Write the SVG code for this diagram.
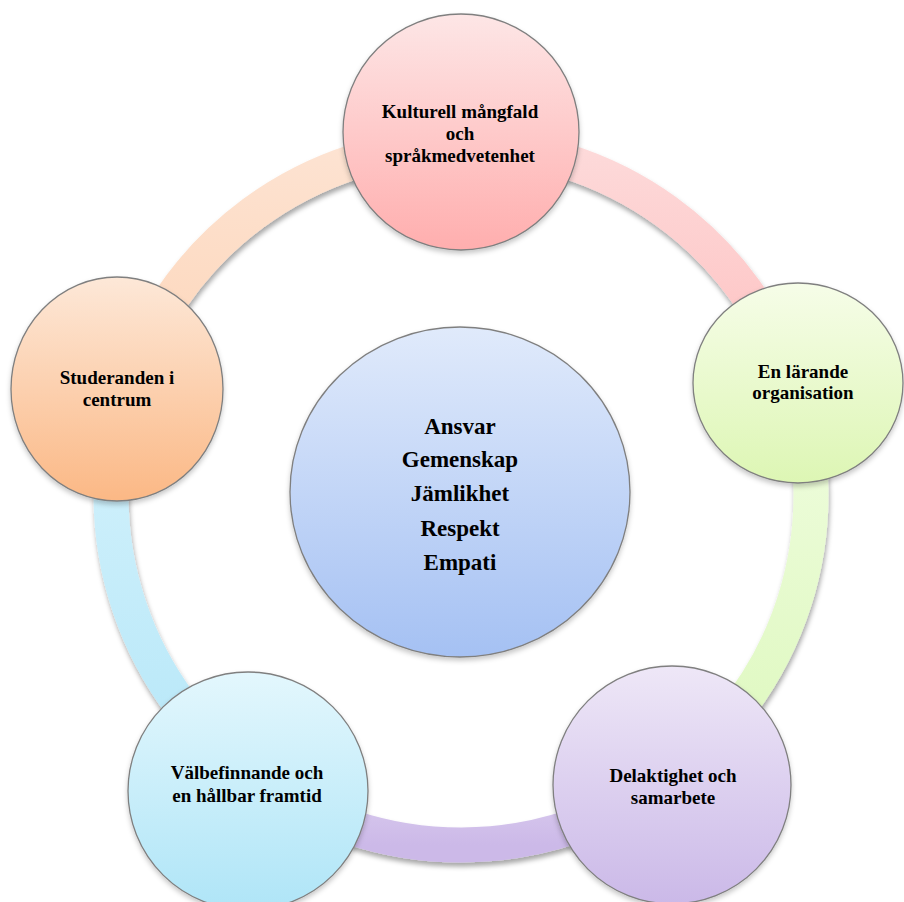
<svg xmlns="http://www.w3.org/2000/svg" width="904" height="902" viewBox="0 0 904 902">
<style>
  .node { stroke: #7f7f7f; stroke-width: 1.3; filter: url(#sh2); }
  .band { fill: none; stroke-width: 35; stroke-linecap: butt; filter: url(#sh); }
  .lbl { font-family: "Liberation Serif", "DejaVu Serif", serif; font-weight: bold; font-size: 19px; fill: #000; text-anchor: middle; }
  .ctr { font-family: "Liberation Serif", "DejaVu Serif", serif; font-weight: bold; font-size: 23px; fill: #000; text-anchor: middle; }
</style>
<defs>
  <filter id="sh" filterUnits="userSpaceOnUse" x="0" y="0" width="904" height="902">
    <feDropShadow dx="1" dy="4" stdDeviation="2.5" flood-color="#000" flood-opacity="0.35"/>
  </filter>
  <filter id="sh2" filterUnits="userSpaceOnUse" x="0" y="0" width="904" height="902">
    <feDropShadow dx="0" dy="3" stdDeviation="2.5" flood-color="#000" flood-opacity="0.22"/>
  </filter>
  <linearGradient id="gPink" x1="0" y1="0" x2="0" y2="1">
    <stop offset="0" stop-color="#fde6e6"/><stop offset="1" stop-color="#ffaeae"/>
  </linearGradient>
  <linearGradient id="gGreen" x1="0" y1="0" x2="0" y2="1">
    <stop offset="0" stop-color="#f6fde8"/><stop offset="1" stop-color="#ddf6b4"/>
  </linearGradient>
  <linearGradient id="gPurple" x1="0" y1="0" x2="0" y2="1">
    <stop offset="0" stop-color="#eee7f7"/><stop offset="1" stop-color="#cbb9e8"/>
  </linearGradient>
  <linearGradient id="gCyan" x1="0" y1="0" x2="0" y2="1">
    <stop offset="0" stop-color="#e3f7fd"/><stop offset="1" stop-color="#afe5f7"/>
  </linearGradient>
  <linearGradient id="gOrange" x1="0" y1="0" x2="0" y2="1">
    <stop offset="0" stop-color="#fde8d8"/><stop offset="1" stop-color="#fbb885"/>
  </linearGradient>
  <linearGradient id="gBlue" x1="0" y1="0" x2="0" y2="1">
    <stop offset="0" stop-color="#e0eafb"/><stop offset="1" stop-color="#a5c1f3"/>
  </linearGradient>
  <linearGradient id="aPink" x1="0" y1="0" x2="0" y2="1">
    <stop offset="0" stop-color="#fddada"/><stop offset="1" stop-color="#fec0c0"/>
  </linearGradient>
  <linearGradient id="aGreen" x1="0" y1="0" x2="0" y2="1">
    <stop offset="0" stop-color="#f0fde0"/><stop offset="1" stop-color="#ddf8bd"/>
  </linearGradient>
  <linearGradient id="aPurple" x1="0" y1="0" x2="0" y2="1">
    <stop offset="0" stop-color="#ddd0f0"/><stop offset="1" stop-color="#ccb9e8"/>
  </linearGradient>
  <linearGradient id="aCyan" x1="0" y1="0" x2="0" y2="1">
    <stop offset="0" stop-color="#d4f2fc"/><stop offset="1" stop-color="#b6e7f8"/>
  </linearGradient>
  <linearGradient id="aOrange" x1="0" y1="0" x2="0" y2="1">
    <stop offset="0" stop-color="#fde3d2"/><stop offset="1" stop-color="#fdd5b8"/>
  </linearGradient>
</defs>
<rect width="904" height="902" fill="#fff"/>
<g id="connectors">
  <path class="band" stroke="url(#aPink)" d="M461,145 A350,350 0 0 1 793.1,384.5"/>
  <path class="band" stroke="url(#aGreen)" d="M793.1,384.5 A350,350 0 0 1 666.7,778.2"/>
  <path class="band" stroke="url(#aPurple)" d="M666.7,778.2 A350,350 0 0 1 256.3,778.9"/>
  <path class="band" stroke="url(#aCyan)" d="M256.3,778.9 A350,350 0 0 1 126.3,392.7"/>
  <path class="band" stroke="url(#aOrange)" d="M126.3,392.7 A350,350 0 0 1 461,145"/>
</g>
<g id="center">
  <ellipse class="node" cx="460" cy="492" rx="170" ry="165" fill="url(#gBlue)"/>
  <text class="ctr" x="460" y="434">Ansvar</text>
  <text class="ctr" x="460" y="467">Gemenskap</text>
  <text class="ctr" x="460" y="501">Jämlikhet</text>
  <text class="ctr" x="460" y="536">Respekt</text>
  <text class="ctr" x="460" y="570">Empati</text>
</g>
<g id="n-kultur">
  <ellipse class="node" cx="461" cy="132" rx="118" ry="118" fill="url(#gPink)"/>
  <text class="lbl" x="460" y="118">Kulturell mångfald</text>
  <text class="lbl" x="460" y="140">och</text>
  <text class="lbl" x="460" y="162">språkmedvetenhet</text>
</g>
<g id="n-larande">
  <ellipse class="node" cx="798" cy="383" rx="105" ry="100" fill="url(#gGreen)"/>
  <text class="lbl" x="803" y="378">En lärande</text>
  <text class="lbl" x="803" y="399">organisation</text>
</g>
<g id="n-delaktighet">
  <ellipse class="node" cx="672" cy="785" rx="119" ry="119" fill="url(#gPurple)"/>
  <text class="lbl" x="673" y="782">Delaktighet och</text>
  <text class="lbl" x="673" y="804">samarbete</text>
</g>
<g id="n-valbefinnande">
  <ellipse class="node" cx="248" cy="791" rx="120" ry="119" fill="url(#gCyan)"/>
  <text class="lbl" x="247" y="779">Välbefinnande och</text>
  <text class="lbl" x="247" y="802">en hållbar framtid</text>
</g>
<g id="n-studeranden">
  <ellipse class="node" cx="117" cy="389" rx="106" ry="112" fill="url(#gOrange)"/>
  <text class="lbl" x="117" y="384">Studeranden i</text>
  <text class="lbl" x="117" y="406">centrum</text>
</g>
</svg>
